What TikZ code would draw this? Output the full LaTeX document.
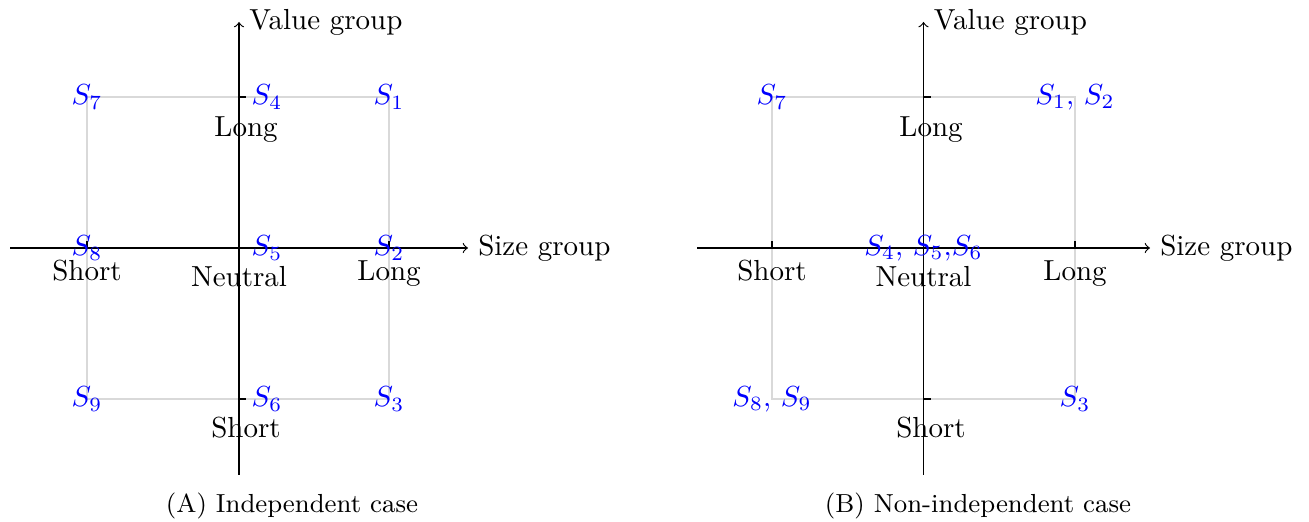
\documentclass[tikz,border=0pt]{standalone}

\tikzset{
  axisline/.style={draw=black, line width=0.4pt, ->},
  gridline/.style={draw=black!15, line width=0.4pt},
  tickmark/.style={draw=black, line width=0.4pt},
  state/.style={text=blue, inner sep=0pt},
  ticklabel/.style={anchor=base, inner sep=0pt},
  axislabel/.style={anchor=west},
  subcaption/.style={font=\small, anchor=base, inner sep=0pt}
}

\begin{document}
\begin{tikzpicture}[x=0.3448pt, y=-0.3448pt]
\useasboundingbox (0,0) rectangle (1309,522);

% ---------------- (A) independent case ----------------
\coordinate (A-o)    at (239,248);
\coordinate (A-xmin) at (10,248);
\coordinate (A-xmax) at (468,248);
\coordinate (A-ymin) at (239,475);
\coordinate (A-ymax) at (239,22);

\draw[gridline] (87,97) rectangle (389,399);

\draw[axisline] (A-xmin) -- (A-xmax);
\draw[axisline] (A-ymin) -- (A-ymax);
\node[axislabel] (A-xlab) at (A-xmax) {Size group};
\node[axislabel] (A-ylab) at (A-ymax) {Value group};

\draw[tickmark] (239,97)  -- (246,97);
\draw[tickmark] (239,399) -- (246,399);
\draw[tickmark] (87,248)  -- (87,241);
\draw[tickmark] (389,248) -- (389,241);

\node[ticklabel] (A-ylong)  at (246,137) {Long};
\node[ticklabel] (A-yshort) at (246,438) {Short};
\node[ticklabel] (A-neut)   at (239,287) {Neutral};
\node[ticklabel] (A-xshort) at (87,281)  {Short};
\node[ticklabel] (A-xlong)  at (389,281) {Long};

\node[state] (A-s7) at (87,97)   {$S_7$};
\node[state] (A-s4) at (267,97)  {$S_4$};
\node[state] (A-s1) at (389,97)  {$S_1$};
\node[state] (A-s8) at (87,248)  {$S_8$};
\node[state] (A-s5) at (267,248) {$S_5$};
\node[state] (A-s2) at (389,248) {$S_2$};
\node[state] (A-s9) at (87,399)  {$S_9$};
\node[state] (A-s6) at (267,399) {$S_6$};
\node[state] (A-s3) at (389,399) {$S_3$};

\node[subcaption] (A-cap) at (292,513) {(A) Independent case};

% ---------------- (B) non-independent case ----------------
\coordinate (B-o)    at (923.5,248);
\coordinate (B-xmin) at (697,248);
\coordinate (B-xmax) at (1150,248);
\coordinate (B-ymin) at (923.5,475);
\coordinate (B-ymax) at (923.5,22);

\draw[gridline] (772,97) rectangle (1075,399);

\draw[axisline] (B-xmin) -- (B-xmax);
\draw[axisline] (B-ymin) -- (B-ymax);
\node[axislabel] (B-xlab) at (B-xmax) {Size group};
\node[axislabel] (B-ylab) at (B-ymax) {Value group};

\draw[tickmark] (923.5,97)  -- (930.5,97);
\draw[tickmark] (923.5,399) -- (930.5,399);
\draw[tickmark] (772,248)   -- (772,241);
\draw[tickmark] (1075,248)  -- (1075,241);

\node[ticklabel] (B-ylong)  at (931,137)   {Long};
\node[ticklabel] (B-yshort) at (931,438)   {Short};
\node[ticklabel] (B-neut)   at (923.5,287) {Neutral};
\node[ticklabel] (B-xshort) at (772,281)   {Short};
\node[ticklabel] (B-xlong)  at (1075,281)  {Long};

\node[state] (B-s7)   at (772,97)    {$S_7$};
\node[state] (B-s12)  at (1075,97)   {$S_1$, $S_2$};
\node[state] (B-s456) at (923.5,248) {$S_4$, $S_5$,$S_6$};
\node[state] (B-s89)  at (772,399)   {$S_8$, $S_9$};
\node[state] (B-s3)   at (1075,399)  {$S_3$};

\node[subcaption] (B-cap) at (978,513) {(B) Non-independent case};
\end{tikzpicture}
\end{document}
